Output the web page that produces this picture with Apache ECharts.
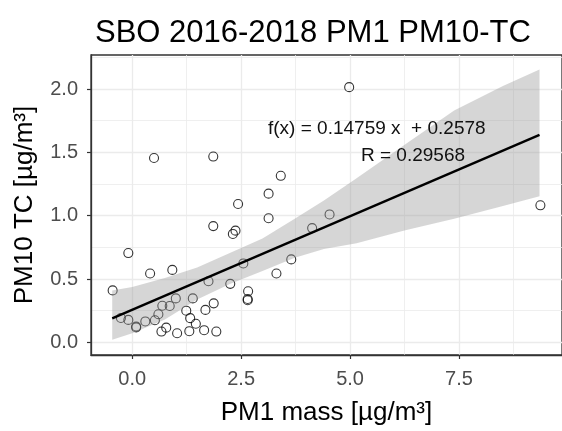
<!DOCTYPE html>
<html>
<head>
<meta charset="utf-8">
<script src="https://cdn.jsdelivr.net/npm/echarts@6/dist/echarts.min.js"></script>
<style>
  html, body { margin: 0; padding: 0; background: #fff; }
  #chart { width: 562px; height: 431px; }
</style>
</head>
<body>
<div id="chart"></div>
<script>
// PM1 mass vs PM10 total carbon, SBO 2016-2018
const pm1Mass = [0.50, 1.86, 3.41, 3.13, 2.43, 3.13, 1.86, 2.37, 2.31, 4.13,
  -0.09, 3.65, 2.55, 0.41, 0.92, 3.31, -0.45, 2.25, 1.75, 2.66,
  2.65, 2.65, -0.26, -0.09, 0.09, 0.09, 0.30, 0.52, 0.60, 0.69,
  0.86, 1.00, 0.67, 0.78, 1.03, 1.24, 1.39, 1.33, 1.46, 1.31,
  1.68, 1.87, 1.65, 1.93, 4.98, 4.53, 9.37];
const pm10TC = [1.456, 1.467, 1.315, 1.174, 1.092, 0.980, 0.918, 0.882, 0.856, 0.902,
  0.705, 0.655, 0.623, 0.544, 0.572, 0.544, 0.410, 0.462, 0.482, 0.403,
  0.342, 0.332, 0.192, 0.177, 0.125, 0.118, 0.165, 0.174, 0.222, 0.289,
  0.287, 0.347, 0.085, 0.116, 0.072, 0.250, 0.347, 0.191, 0.147, 0.088,
  0.256, 0.308, 0.096, 0.085, 2.015, 1.010, 1.082];

// confidence band of the fit
const bandX     = [-0.46, 0.00, 0.75, 1.49, 2.24, 2.99, 3.73, 4.40, 5.15, 6.27, 7.39, 8.51, 9.35];
const bandUpper = [0.410, 0.436, 0.508, 0.590, 0.705, 0.820, 0.975, 1.120, 1.295, 1.565, 1.830, 2.025, 2.154];
const bandLower = [0.020, 0.072, 0.180, 0.338, 0.460, 0.564, 0.667, 0.737, 0.782, 0.885, 0.975, 1.077, 1.154];

// linear fit stated in the annotation
const fitSlope = 0.14759;
const fitIntercept = 0.2578;
const fitR = 0.29568;

// axis ticks
const xTicks = [0, 2.5, 5, 7.5];
const xMinorTicks = [1.25, 3.75, 6.25, 8.75];
const yTicks = [0, 0.5, 1, 1.5, 2];
const yMinorTicks = [0.25, 0.75, 1.25, 1.75, 2.25];

const FONT = '"Liberation Sans", Arial, sans-serif';
const X_MIN = -0.947, X_MAX = 9.866;
const Y_MIN = -0.1, Y_MAX = 2.269;

const points = pm1Mass.map((x, i) => [x, pm10TC[i]]);
const fitX0 = bandX[0], fitX1 = bandX[bandX.length - 1];
const fitLine = [[fitX0, fitIntercept + fitSlope * fitX0], [fitX1, fitIntercept + fitSlope * fitX1]];

const chart = echarts.init(document.getElementById('chart'), null, { renderer: 'canvas' });

const majorAxisX = {
  type: 'value', min: X_MIN, max: X_MAX, position: 'bottom',
  name: 'PM1 mass [µg/m³]', nameLocation: 'middle', nameGap: 45,
  nameTextStyle: { fontFamily: FONT, fontSize: 26, color: '#000' },
  axisLine: { show: true, onZero: false, lineStyle: { color: '#333', width: 1.3 } },
  axisTick: { show: true, length: 4, customValues: xTicks, lineStyle: { color: '#333', width: 1.2 } },
  axisLabel: { customValues: xTicks, margin: 14, fontFamily: FONT, fontSize: 20, color: '#4D4D4D',
    formatter: v => v.toFixed(1) },
  splitLine: { show: true, lineStyle: { color: '#EBEBEB', width: 1.3 } }
};
const minorAxisX = {
  type: 'value', min: X_MIN, max: X_MAX, position: 'bottom',
  axisLine: { show: false }, axisLabel: { show: false },
  axisTick: { show: false, customValues: xMinorTicks },
  splitLine: { show: true, lineStyle: { color: '#EBEBEB', width: 0.8 } }
};
const majorAxisY = {
  type: 'value', min: Y_MIN, max: Y_MAX, position: 'left',
  name: 'PM10 TC [µg/m³]', nameLocation: 'middle', nameGap: 53, nameRotate: 90,
  nameTextStyle: { fontFamily: FONT, fontSize: 26, color: '#000' },
  axisLine: { show: true, onZero: false, lineStyle: { color: '#333', width: 1.3 } },
  axisTick: { show: true, length: 4, customValues: yTicks, lineStyle: { color: '#333', width: 1.2 } },
  axisLabel: { customValues: yTicks, margin: 13, fontFamily: FONT, fontSize: 20, color: '#4D4D4D',
    formatter: v => v.toFixed(1) },
  splitLine: { show: true, lineStyle: { color: '#EBEBEB', width: 1.3 } }
};
const minorAxisY = {
  type: 'value', min: Y_MIN, max: Y_MAX, position: 'left',
  axisLine: { show: false }, axisLabel: { show: false },
  axisTick: { show: false, customValues: yMinorTicks },
  splitLine: { show: true, lineStyle: { color: '#EBEBEB', width: 0.8 } }
};

chart.setOption({
  animation: false,
  backgroundColor: '#fff',
  title: {
    text: 'SBO 2016-2018 PM1 PM10-TC',
    left: 90, top: 13,
    textStyle: { fontFamily: FONT, fontSize: 31, fontWeight: 'normal', color: '#000' }
  },
  grid: {
    left: 91, top: 55, width: 483, height: 308,
    show: true, borderColor: '#333', borderWidth: 1.3, backgroundColor: 'transparent'
  },
  xAxis: [majorAxisX, minorAxisX],
  yAxis: [majorAxisY, minorAxisY],
  series: [
    {
      type: 'scatter', xAxisIndex: 0, yAxisIndex: 0, z: 2,
      data: points, symbol: 'circle', symbolSize: 9,
      itemStyle: { color: 'rgba(0,0,0,0)', borderColor: '#000', borderWidth: 1.1 },
      emphasis: { disabled: true }, silent: true
    },
    {
      type: 'custom', xAxisIndex: 0, yAxisIndex: 0, z: 3, silent: true,
      data: [0],
      renderItem: (params, api) => {
        const pts = [];
        for (let i = 0; i < bandX.length; i++) pts.push(api.coord([bandX[i], bandUpper[i]]));
        for (let i = bandX.length - 1; i >= 0; i--) pts.push(api.coord([bandX[i], bandLower[i]]));
        return { type: 'polygon', shape: { points: pts },
          style: { fill: 'rgba(153,153,153,0.4)', stroke: null } };
      }
    },
    {
      type: 'line', xAxisIndex: 0, yAxisIndex: 0, z: 4,
      data: fitLine, showSymbol: false, symbol: 'none',
      lineStyle: { color: '#000', width: 2.4 },
      emphasis: { disabled: true }, silent: true
    }
  ],
  graphic: [
    { type: 'text', left: 268, top: 119, z: 100,
      style: { text: 'f(x) = ' + fitSlope + ' x  + ' + fitIntercept, font: '19px ' + FONT, fill: '#111' } },
    { type: 'text', left: 361, top: 146, z: 100,
      style: { text: 'R = ' + fitR, font: '19px ' + FONT, fill: '#111' } }
  ]
});
</script>
</body>
</html>
